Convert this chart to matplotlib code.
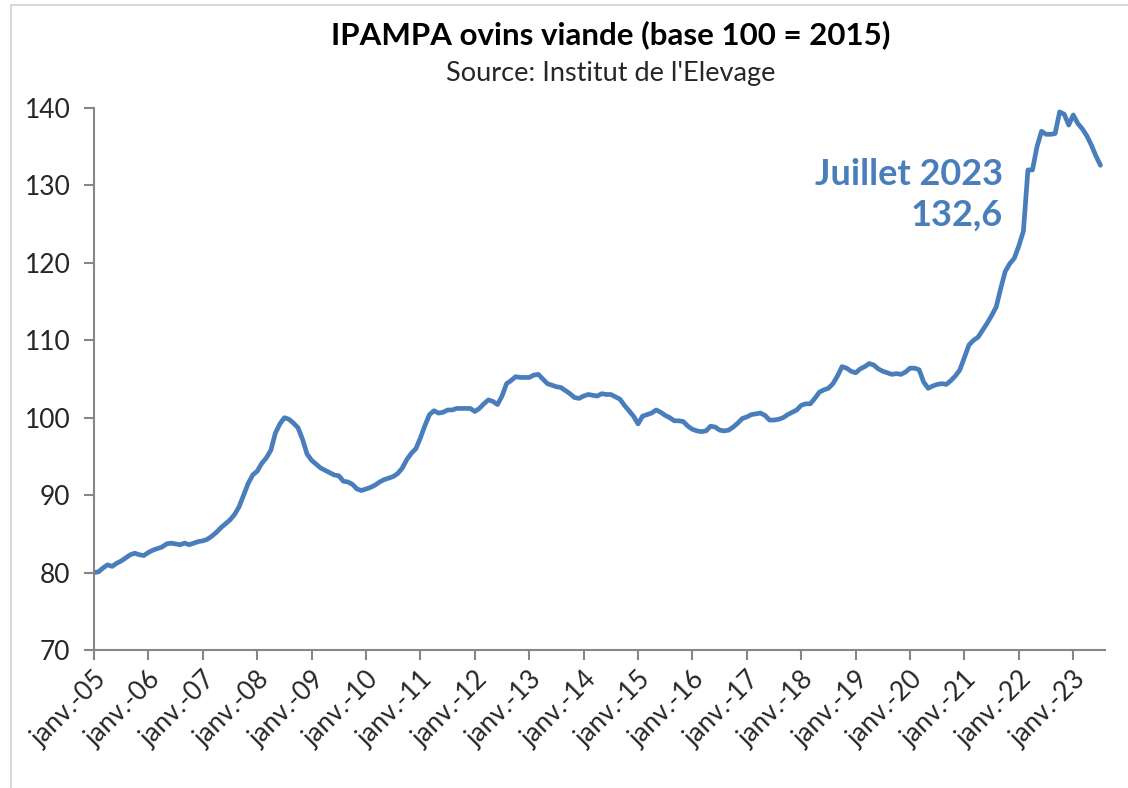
import numpy as np
import matplotlib.pyplot as plt
from matplotlib.lines import Line2D

# monthly IPAMPA ovins viande index, janv. 2005 -> juil. 2023
y2005 = [80.0, 80.1, 80.6, 81.0, 80.8, 81.2, 81.5, 81.9, 82.3, 82.5, 82.3, 82.2]
y2006 = [82.6, 82.9, 83.1, 83.3, 83.7, 83.8, 83.7, 83.6, 83.8, 83.6, 83.8, 84.0]
y2007 = [84.1, 84.3, 84.7, 85.2, 85.8, 86.3, 86.8, 87.5, 88.5, 90.0, 91.5, 92.6]
y2008 = [93.1, 94.1, 94.8, 95.8, 98.0, 99.2, 100.0, 99.8, 99.3, 98.7, 97.2, 95.3]
y2009 = [94.5, 94.0, 93.5, 93.2, 92.9, 92.6, 92.5, 91.8, 91.7, 91.4, 90.8, 90.6]
y2010 = [90.8, 91.0, 91.3, 91.7, 92.0, 92.2, 92.4, 92.8, 93.5, 94.6, 95.4, 96.0]
y2011 = [97.4, 99.0, 100.4, 100.9, 100.6, 100.7, 101.0, 101.0, 101.2, 101.2, 101.2, 101.2]
y2012 = [100.8, 101.2, 101.8, 102.3, 102.1, 101.7, 102.8, 104.4, 104.8, 105.3, 105.2, 105.2]
y2013 = [105.2, 105.5, 105.6, 105.0, 104.4, 104.2, 104.0, 103.9, 103.5, 103.1, 102.6, 102.5]
y2014 = [102.8, 103.0, 102.9, 102.8, 103.1, 103.0, 103.0, 102.7, 102.4, 101.6, 100.9, 100.2]
y2015 = [99.2, 100.2, 100.4, 100.6, 101.0, 100.7, 100.3, 100.0, 99.6, 99.6, 99.5, 98.9]
y2016 = [98.5, 98.3, 98.2, 98.3, 98.9, 98.8, 98.4, 98.3, 98.4, 98.8, 99.3, 99.9]
y2017 = [100.1, 100.4, 100.5, 100.6, 100.3, 99.7, 99.7, 99.8, 100.0, 100.4, 100.7, 101.0]
y2018 = [101.6, 101.8, 101.8, 102.5, 103.3, 103.6, 103.8, 104.4, 105.4, 106.6, 106.4, 106.0]
y2019 = [105.8, 106.3, 106.6, 107.0, 106.8, 106.3, 106.0, 105.8, 105.6, 105.7, 105.6, 105.9]
y2020 = [106.4, 106.4, 106.2, 104.6, 103.8, 104.1, 104.3, 104.4, 104.3, 104.8, 105.4, 106.2]
y2021 = [107.8, 109.4, 110.0, 110.4, 111.3, 112.2, 113.2, 114.3, 116.7, 118.9, 119.9, 120.6]
y2022 = [122.2, 124.1, 132.0, 132.0, 135.0, 137.0, 136.6, 136.6, 136.7, 139.5, 139.2, 137.8]
y2023 = [139.1, 138.0, 137.3, 136.4, 135.2, 133.8, 132.6]

values = (y2005 + y2006 + y2007 + y2008 + y2009 + y2010 + y2011 + y2012 + y2013
          + y2014 + y2015 + y2016 + y2017 + y2018 + y2019 + y2020 + y2021 + y2022 + y2023)
years = list(range(2005, 2024))
xlabels = ["janv.-%02d" % (y % 100) for y in years]

blue = "#4a7ebb"
grey = "#868686"
plt.rcParams['font.family'] = ['Lato', 'DejaVu Sans']

fig = plt.figure(figsize=(11.28, 7.88), dpi=100)
ax = fig.add_axes([94 / 1128, 1 - 650 / 788, (1105 - 94) / 1128, (650 - 108) / 788])

x = np.arange(len(values))
ax.plot(x, values, color=blue, lw=3.4, solid_joinstyle='round', solid_capstyle='round')

ax.set_xlim(0, 223)
ax.set_ylim(70, 140)
ax.set_yticks(range(70, 141, 10))
ax.set_xticks([12 * i for i in range(len(years))])
ax.set_xticklabels(xlabels, rotation=45, ha='right', rotation_mode='anchor')

for s in ['top', 'right']:
    ax.spines[s].set_visible(False)
for s in ['left', 'bottom']:
    ax.spines[s].set_color(grey)
    ax.spines[s].set_linewidth(1.5)
ax.tick_params(axis='both', colors=grey, width=1.5, length=7, labelcolor='#262626', labelsize=19)
ax.tick_params(axis='y', pad=10)
ax.tick_params(axis='x', pad=5)

fig.text(1003 / 1128, 1 - 195 / 788, "Juillet 2023\n132,6", ha='right', va='center',
         color=blue, fontsize=26, fontweight='bold', linespacing=1.3)

fig.text(611 / 1128, 1 - 35 / 788, "IPAMPA ovins viande (base 100 = 2015)", ha='center', va='center',
         fontsize=22.5, fontweight='bold', color='black')
fig.text(611 / 1128, 1 - 73 / 788, "Source: Institut de l'Elevage", ha='center', va='center',
         fontsize=19.5, color='#262626')

# chart area border (only the left and top edges are inside the picture)
fig.add_artist(Line2D([11 / 1128, 11 / 1128], [0, 1 - 5 / 788], transform=fig.transFigure, color='#d9d9d9', lw=1.5))
fig.add_artist(Line2D([11 / 1128, 1], [1 - 5 / 788, 1 - 5 / 788], transform=fig.transFigure, color='#d9d9d9', lw=1.5))

fig.savefig("out.png", dpi=100)
